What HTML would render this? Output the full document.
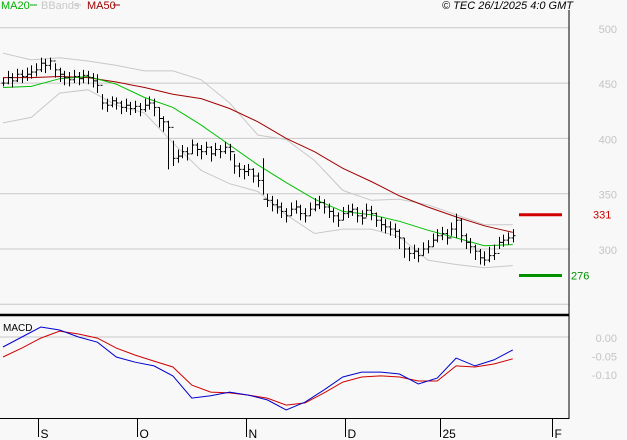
<!DOCTYPE html>
<html><head><meta charset="utf-8">
<style>
html,body{margin:0;padding:0;background:#f8f8f8;}
svg{display:block;font-family:"Liberation Sans",sans-serif;}
</style></head>
<body>
<svg id="chart" width="627" height="440" viewBox="0 0 627 440" xmlns="http://www.w3.org/2000/svg">
<rect x="0" y="0" width="627" height="440" fill="#f8f8f8"/>
<g id="grid"></g>
<g id="bands"></g>
<g id="mas"></g>
<g id="bars"></g>
<g id="macd"></g>
<g id="axes"></g>
<g font-size="11">
  <text x="1" y="9" fill="#00b000">MA20</text>
  <line x1="30" y1="5" x2="37" y2="5" stroke="#00b000" stroke-width="1"/>
  <text x="41" y="9" fill="#c8c8c8">BBands</text>
  <line x1="74" y1="5" x2="81" y2="5" stroke="#c8c8c8"/>
  <text x="87" y="9" fill="#a00000">MA50</text>
  <line x1="113" y1="5" x2="120" y2="5" stroke="#a00000"/>
</g>
<text x="573" y="9" font-size="11" font-style="italic" text-anchor="end" fill="#000">© TEC 26/1/2025 4:0 GMT</text>
<text x="3" y="331" font-size="10" fill="#000">MACD</text>
</svg>
<script>
const closes=[450,455,452,458,456,458,460,462,468,466,470,462,458,455,453,456,454,457,455,452,448,432,430,434,432,428,430,427,429,426,430,432,428,418,415,410,382,384,388,386,394,390,388,392,386,390,388,392,388,375,372,370,372,366,362,345,344,340,338,334,330,336,338,332,330,336,340,342,338,334,330,326,332,334,336,330,328,335,332,326,322,320,318,316,310,300,296,298,294,300,302,308,312,314,310,318,326,312,306,302,298,292,290,294,296,306,308,310,312];
const highs=[455,461,459,463,462,464,466,468,473,472,473,468,464,461,460,462,460,462,461,459,458,440,436,438,437,434,436,433,434,432,436,438,436,428,420,416,398,390,394,392,399,396,394,397,393,396,394,397,395,386,378,376,377,373,369,382,350,348,345,342,337,342,344,340,337,342,346,348,345,341,337,333,338,340,341,338,335,341,339,333,329,327,325,323,318,310,302,304,301,306,308,314,318,320,318,324,332,328,314,310,304,300,298,302,304,311,313,315,318];
const lows=[447,449,446,451,450,452,454,456,460,459,462,455,451,448,447,450,448,450,449,446,441,426,424,428,426,422,424,421,423,420,424,426,420,410,406,372,375,378,382,380,386,384,381,385,379,384,382,386,380,368,365,363,366,360,356,349,338,334,332,328,324,330,332,326,324,330,334,336,332,328,324,320,326,328,330,324,322,329,326,320,316,314,312,310,300,292,289,291,288,294,296,302,306,308,304,312,310,306,300,296,290,286,285,288,290,300,302,304,306];
const ma20=[446,447,454,456,449,437,428,412,394,376,360,345,334,331,325,317,310,303,304];
const ma50=[455,455,456,455,451,446,440,436,427,415,400,388,373,361,348,338,329,321,315];
const bbUpper=[477,471,473,470,466,461,461,453,432,403,399,380,353,344,345,340,331,322,322];
const bbLower=[414,419,441,444,430,423,396,371,359,352,331,314,318,318,311,290,286,283,285];
const macdLine=[-0.027,0,0.027,0.019,0,-0.014,-0.054,-0.068,-0.078,-0.105,-0.165,-0.159,-0.149,-0.157,-0.170,-0.197,-0.176,-0.143,-0.108,-0.095,-0.095,-0.100,-0.127,-0.111,-0.057,-0.078,-0.062,-0.035];
const signalLine=[-0.054,-0.030,-0.003,0.016,0.008,-0.003,-0.030,-0.049,-0.065,-0.081,-0.130,-0.149,-0.151,-0.157,-0.165,-0.184,-0.178,-0.151,-0.122,-0.108,-0.105,-0.108,-0.119,-0.119,-0.078,-0.081,-0.073,-0.059];
const priceTicks=[500,450,400,350,300,250];
const priceTickLabels=["500","450","400","350","300",""];
const macdTicks=[0,-0.05,-0.10];
const macdTickLabels=["0.00","-0.05","-0.10"];
const monthIdx=[7.4,28.4,51.5,72.5,92.6,116.3];
const monthLabels=["S","O","N","D","25","F"];
const levelValues=[331,276];
const levelLabels=["331","276"];
const maStep=6, macdStep=4;

const NS="http://www.w3.org/2000/svg";
const xOf=i=>3+i*4.72;
const yP=v=>249-(v-300)*1.106;
const yM=v=>337-v*370;
function mk(tag,attrs,parent){const e=document.createElementNS(NS,tag);for(const k in attrs)e.setAttribute(k,attrs[k]);parent.appendChild(e);return e;}
const grid=document.getElementById('grid'),axes=document.getElementById('axes'),bars=document.getElementById('bars'),mas=document.getElementById('mas'),bands=document.getElementById('bands'),macd=document.getElementById('macd');

priceTicks.forEach((t,k)=>{
  const y=yP(t);
  const l=mk('line',{x1:0,x2:569,y1:y,y2:y,stroke:'#c8c8c8','stroke-width':1},grid);
  
  
  if(priceTickLabels[k]){
    const tx=mk('text',{x:617,y:y+5,'font-size':11,fill:'#c4c4c4','text-anchor':'end'},axes);
    tx.textContent=priceTickLabels[k];
    
    
  }
});
macdTicks.forEach((t,k)=>{
  const y=yM(t);
  if(t===0){
    const l=mk('line',{x1:0,x2:569,y1:y,y2:y,stroke:'#c8c8c8'},grid);
    
    
  }
  const tx=mk('text',{x:617,y:y+5,'font-size':11,fill:'#c4c4c4','text-anchor':'end'},axes);
  tx.textContent=macdTickLabels[k];
  
  
});

function poly(arr,step,yf,color,name,parent,w){
  const pts=arr.map((v,k)=>xOf(k*step).toFixed(1)+','+yf(v).toFixed(1)).join(' ');
  const p=mk('polyline',{points:pts,fill:'none',stroke:color,'stroke-width':w||1},parent);
  
  
}
poly(bbUpper,maStep,yP,'#c8c8c8','bband-upper',bands);
poly(bbLower,maStep,yP,'#c8c8c8','bband-lower',bands);
poly(ma50,maStep,yP,'#a00000','ma50-line',mas);
poly(ma20,maStep,yP,'#00c000','ma20-line',mas);

closes.forEach((c,i)=>{
  const x=Math.round(xOf(i))+0.5;
  const o=i>0?closes[i-1]:c;
  const g=mk('g',{stroke:'#000','stroke-width':1},bars);
  
  
  mk('line',{x1:x,x2:x,y1:yP(highs[i]),y2:yP(lows[i])},g);
  mk('line',{x1:x-2,x2:x,y1:yP(o),y2:yP(o)},g);
  mk('line',{x1:x,x2:x+2,y1:yP(c),y2:yP(c)},g);
});

poly(signalLine,macdStep,yM,'#d00000','macd-signal-line',macd);
poly(macdLine,macdStep,yM,'#0000d0','macd-line',macd);

// level markers
const lvColors=['#d00000','#009000'];
const lvLabelX=[593,571];
levelValues.forEach((v,k)=>{
  const y=yP(v);
  const l=mk('line',{x1:519,x2:562,y1:y,y2:y,stroke:lvColors[k],'stroke-width':3},axes);
  
  
  const t=mk('text',{x:lvLabelX[k],y:y+4,'font-size':11,fill:lvColors[k]},axes);
  t.textContent=levelLabels[k];
  
  
});

// frame
[[569,10,569,419,1],[0,315,569,315,2.5],[0,418.5,569,418.5,1]].forEach(a=>{
  const l=mk('line',{x1:a[0],y1:a[1],x2:a[2],y2:a[3],stroke:'#000','stroke-width':a[4]},axes);
  
  
});
monthIdx.forEach((m,k)=>{
  const x=Math.round(xOf(m))+0.5;
  const l=mk('line',{x1:x,x2:x,y1:419,y2:437,stroke:'#000'},axes);
  
  
  const t=mk('text',{x:x+2,y:438,'font-size':12,fill:'#000'},axes);
  t.textContent=monthLabels[k];
  
  
});
</script>
</body></html>
